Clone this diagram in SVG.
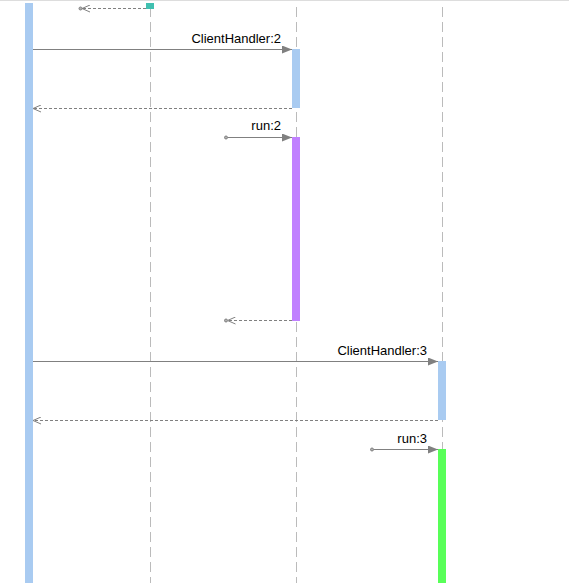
<svg xmlns="http://www.w3.org/2000/svg" width="569" height="583" viewBox="0 0 569 583">
<style>
.life{stroke:#bbbbbb;stroke-width:1;stroke-dasharray:10 5;fill:none}
.msg{stroke:#808080;stroke-width:1;fill:none}
.ret{stroke:#808080;stroke-width:1;stroke-dasharray:3 2;fill:none}
.lbl{font-family:"Liberation Sans",Arial,sans-serif;font-size:13px;fill:#000;text-anchor:end}
.dot{fill:#b0b0b0;stroke:#808080;stroke-width:1}
</style>
<defs>
<marker id="fill" markerWidth="10" markerHeight="8" refX="10" refY="4" orient="auto" markerUnits="userSpaceOnUse">
<path d="M0,0 L10,4 L0,8 Z" fill="#808080"/>
</marker>
<marker id="open" markerWidth="8" markerHeight="8" refX="8" refY="4" orient="auto" markerUnits="userSpaceOnUse">
<path d="M0,0.5 L8,4 L0,7.5" fill="none" stroke="#808080" stroke-width="1"/>
</marker>
</defs>
<rect width="569" height="583" fill="#fff"/>
<line x1="0" y1="0.5" x2="569" y2="0.5" stroke="#dddddd"/>
<g id="lifelines">
<line class="life" x1="150.5" y1="7" x2="150.5" y2="583"/>
<line class="life" x1="296.5" y1="7" x2="296.5" y2="583"/>
<line class="life" x1="442.5" y1="7" x2="442.5" y2="583"/>
</g>
<g id="node-main"><rect x="25" y="3" width="8" height="580" fill="#a9cbf1"/></g>
<g id="node-teal"><rect x="146" y="3" width="8" height="6" fill="#40c0b0"/></g>
<g id="node-ch2"><rect x="292" y="49" width="8" height="59" fill="#a9cbf1"/></g>
<g id="node-run2"><rect x="292" y="137" width="8" height="184" fill="#c080ff"/></g>
<g id="node-ch3"><rect x="438" y="361" width="8" height="59" fill="#a9cbf1"/></g>
<g id="node-run3"><rect x="438" y="449" width="8" height="134" fill="#58ff58"/></g>
<g id="connectors">
<line class="ret" x1="146" y1="8.5" x2="82" y2="8.5" marker-end="url(#open)"/>
<circle class="dot" cx="80.5" cy="8.5" r="1.5"/>
<line class="msg" x1="33" y1="49.5" x2="292" y2="49.5" marker-end="url(#fill)"/>
<text class="lbl" x="281" y="43">ClientHandler:2</text>
<line class="ret" x1="292" y1="108.5" x2="33" y2="108.5" marker-end="url(#open)"/>
<circle class="dot" cx="226" cy="137.5" r="1.5"/>
<line class="msg" x1="227.5" y1="137.5" x2="292" y2="137.5" marker-end="url(#fill)"/>
<text class="lbl" x="281" y="130">run:2</text>
<line class="ret" x1="292" y1="320.5" x2="227.5" y2="320.5" marker-end="url(#open)"/>
<circle class="dot" cx="226" cy="320.5" r="1.5"/>
<line class="msg" x1="33" y1="361.5" x2="438" y2="361.5" marker-end="url(#fill)"/>
<text class="lbl" x="427" y="355">ClientHandler:3</text>
<line class="ret" x1="438" y1="420.5" x2="33" y2="420.5" marker-end="url(#open)"/>
<circle class="dot" cx="372" cy="449.5" r="1.5"/>
<line class="msg" x1="373.5" y1="449.5" x2="438" y2="449.5" marker-end="url(#fill)"/>
<text class="lbl" x="427" y="443">run:3</text>
</g>
</svg>
